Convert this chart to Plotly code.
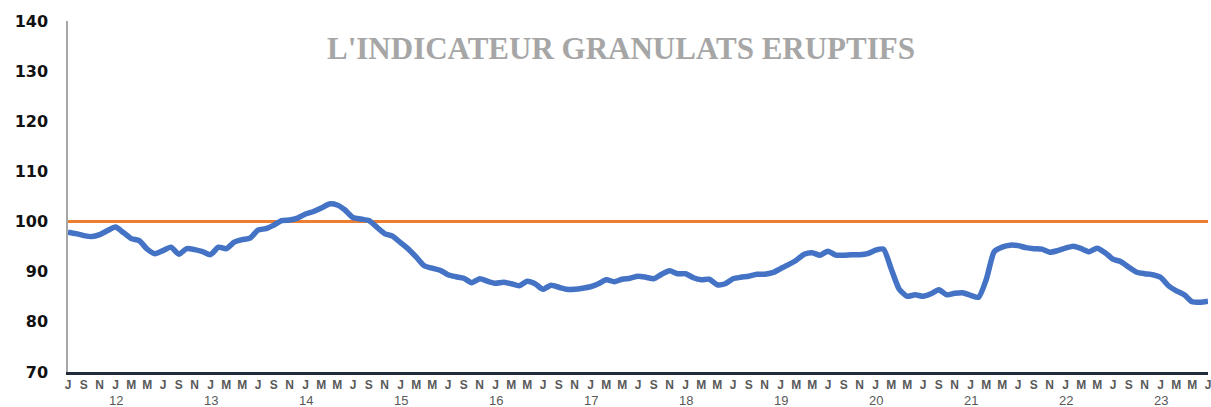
import plotly.graph_objects as go

# Monthly index values, Jul 2011 .. Jul 2023 (145 months)
values = [
    97.9, 97.6, 97.2, 97.0, 97.4, 98.2, 98.9, 97.8, 96.6, 96.2, 94.5, 93.6,
    94.2, 94.9, 93.5, 94.6, 94.4, 94.0, 93.4, 94.9, 94.6, 95.9, 96.4, 96.7,
    98.3, 98.6, 99.3, 100.2, 100.3, 100.7, 101.5, 102.0, 102.7, 103.5, 103.3, 102.3,
    100.8, 100.5, 100.2, 98.9, 97.6, 97.1, 95.8, 94.5, 92.9, 91.2, 90.7, 90.3,
    89.4, 89.0, 88.7, 87.8, 88.6, 88.1, 87.7, 87.9, 87.6, 87.2, 88.1, 87.6,
    86.5, 87.3, 86.9, 86.5, 86.5, 86.7, 87.0, 87.6, 88.4, 88.0, 88.5, 88.7,
    89.1, 88.9, 88.6, 89.5, 90.2, 89.6, 89.6, 88.8, 88.4, 88.5, 87.4, 87.6,
    88.6, 88.9, 89.1, 89.5, 89.5, 89.8, 90.6, 91.4, 92.3, 93.5, 93.8, 93.3,
    94.1, 93.3, 93.3, 93.4, 93.4, 93.6, 94.3, 94.5, 90.5, 86.5, 85.1, 85.4,
    85.1, 85.6, 86.4, 85.4, 85.7, 85.8, 85.3, 84.9, 88.5, 94.0, 94.9, 95.3,
    95.2, 94.8, 94.6, 94.5, 93.9, 94.2, 94.7, 95.1, 94.6, 94.0, 94.7, 93.8,
    92.5, 92.0, 90.9, 89.9, 89.6, 89.4, 88.9, 87.2, 86.2, 85.4, 84.0, 83.9,
    84.1,
]
reference = 100
month_letters = ["J", "F", "M", "A", "M", "J", "J", "A", "S", "O", "N", "D"]
start_month = 7  # July
start_year = 2011
year_labels = ["12", "13", "14", "15", "16", "17", "18", "19", "20", "21", "22", "23"]
title_text = "L'INDICATEUR GRANULATS ERUPTIFS"

n = len(values)
x = list(range(n))
tickvals = list(range(0, n, 2))
ticktext = [month_letters[(start_month - 1 + i) % 12] for i in tickvals]

fig = go.Figure()
fig.add_trace(go.Scatter(
    x=x, y=[reference] * n, mode="lines",
    line=dict(color="#ED7D31", width=3), hoverinfo="skip", showlegend=False,
))
fig.add_trace(go.Scatter(
    x=x, y=values, mode="lines",
    line=dict(color="#4472C4", width=5.5, shape="spline", smoothing=0.6),
    showlegend=False,
))

annotations = []
for k, lab in enumerate(year_labels):
    jan_idx = (12 - (start_month - 1)) % 12 + 12 * k
    annotations.append(dict(
        x=jan_idx, y=0, xref="x", yref="paper", text=lab, showarrow=False,
        yanchor="top", yshift=-19,
        font=dict(family="Liberation Sans, Arial", size=13, color="#595959"),
    ))
annotations.append(dict(
    x=0.4855, y=140 - (48 - 21) / 5.014, xref="paper", yref="y",
    text="<b>" + title_text + "</b>",
    showarrow=False, xanchor="center", yanchor="middle",
    font=dict(family="Liberation Serif, Times New Roman", size=31, color="#A6A6A6"),
))

fig.update_layout(
    width=1211, height=407,
    margin=dict(l=68, r=3, t=21, b=35, autoexpand=False),
    paper_bgcolor="white", plot_bgcolor="white",
    annotations=annotations,
    xaxis=dict(
        range=[0, n - 1], tickvals=tickvals, ticktext=ticktext,
        showgrid=False, zeroline=False, ticks="", automargin=False,
        showline=True, linecolor="#222B38", linewidth=2.5,
        tickfont=dict(family="Liberation Sans, Arial", size=12, color="#595959", weight="bold"),
        tickangle=0, ticklabeloverflow="allow",
    ),
    yaxis=dict(
        range=[70, 140], dtick=10, tick0=70, automargin=False,
        showgrid=False, zeroline=False, ticks="",
        showline=True, linecolor="#A6A6A6", linewidth=1.5,
        tickfont=dict(family="DejaVu Sans", size=16, color="#111111", weight="bold"),
        ticklabelstandoff=15, ticklabeloverflow="allow",
    ),
)

# remove the default page margin so the figure fills the window exactly
fig.write_html(
    "out.html",
    config={"displayModeBar": False},
    post_script="document.body.style.margin='0';document.body.style.overflow='hidden';",
)
